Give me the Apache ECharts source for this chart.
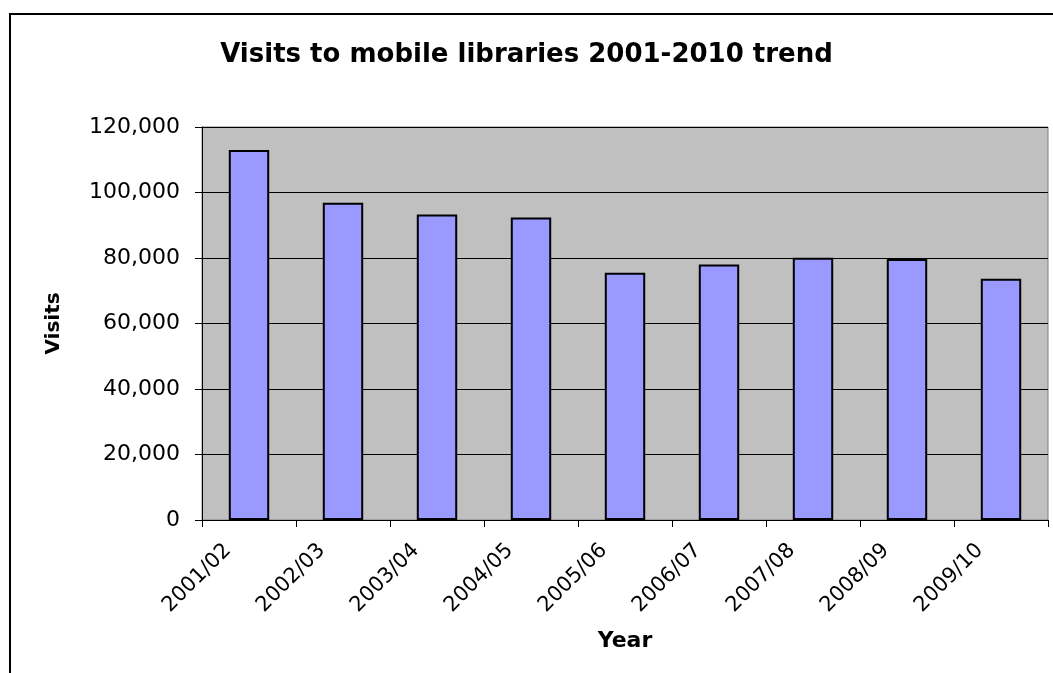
<!DOCTYPE html>
<html>
<head>
<meta charset="utf-8">
<script src="https://cdn.jsdelivr.net/npm/echarts@6/dist/echarts.min.js"></script>
<style>
html,body{margin:0;padding:0;background:#fff;}
#chart{width:1053px;height:673px;}
</style>
</head>
<body>
<div id="chart"></div>
<script>
const categories = ['2001/02','2002/03','2003/04','2004/05','2005/06','2006/07','2007/08','2008/09','2009/10'];
const visits = [113000, 96900, 93300, 92400, 75500, 78000, 80100, 79700, 73700];
const yTicks = { min: 0, max: 120000, interval: 20000 };
const titleText = 'Visits to mobile libraries 2001-2010 trend';
const xName = 'Year';
const yName = 'Visits';

const chart = echarts.init(document.getElementById('chart'), null, {renderer: 'canvas'});
const font = 'DejaVu Sans';
chart.setOption({
  animation: false,
  backgroundColor: '#fff',
  title: {
    text: titleText,
    left: 'center',
    top: 37,
    textStyle: { fontFamily: font, fontSize: 26, fontWeight: 'bold', color: '#000' }
  },
  graphic: [{
    type: 'polyline',
    shape: { points: [[10, 700], [10, 14], [1060, 14]] },
    style: { stroke: '#000', lineWidth: 2, fill: null },
    silent: true
  }],
  grid: {
    left: 202, right: 5, top: 127, bottom: 153,
    show: true, backgroundColor: '#C0C0C0', borderColor: '#808080', borderWidth: 1,
    containLabel: false
  },
  xAxis: {
    type: 'category',
    data: categories,
    name: xName,
    nameLocation: 'middle',
    nameGap: 110,
    nameTextStyle: { fontFamily: font, fontSize: 22, fontWeight: 'bold', color: '#000' },
    axisLine: { show: true, lineStyle: { color: '#000', width: 1 } },
    axisTick: { show: true, length: 7, lineStyle: { color: '#000' } },
    axisLabel: {
      rotate: 45, interval: 0, margin: 6,
      fontFamily: font, fontSize: 21, color: '#000',
      padding: [0, 30, 0, 0]
    }
  },
  yAxis: {
    type: 'value',
    min: yTicks.min, max: yTicks.max, interval: yTicks.interval,
    name: yName,
    nameLocation: 'middle',
    nameRotate: 90,
    nameGap: 138,
    nameTextStyle: { fontFamily: font, fontSize: 20, fontWeight: 'bold', color: '#000' },
    axisLine: { show: true, lineStyle: { color: '#000', width: 1 } },
    axisTick: { show: true, length: 7, lineStyle: { color: '#000' } },
    axisLabel: {
      margin: 22, fontFamily: font, fontSize: 22, color: '#000',
      formatter: v => v.toLocaleString('en-US')
    },
    splitLine: { show: true, lineStyle: { color: '#000', width: 1 } }
  },
  series: [{
    type: 'bar',
    data: visits,
    barWidth: '43%',
    itemStyle: { color: '#9999FF', borderColor: '#000', borderWidth: 2 }
  }]
});
</script>
</body>
</html>
